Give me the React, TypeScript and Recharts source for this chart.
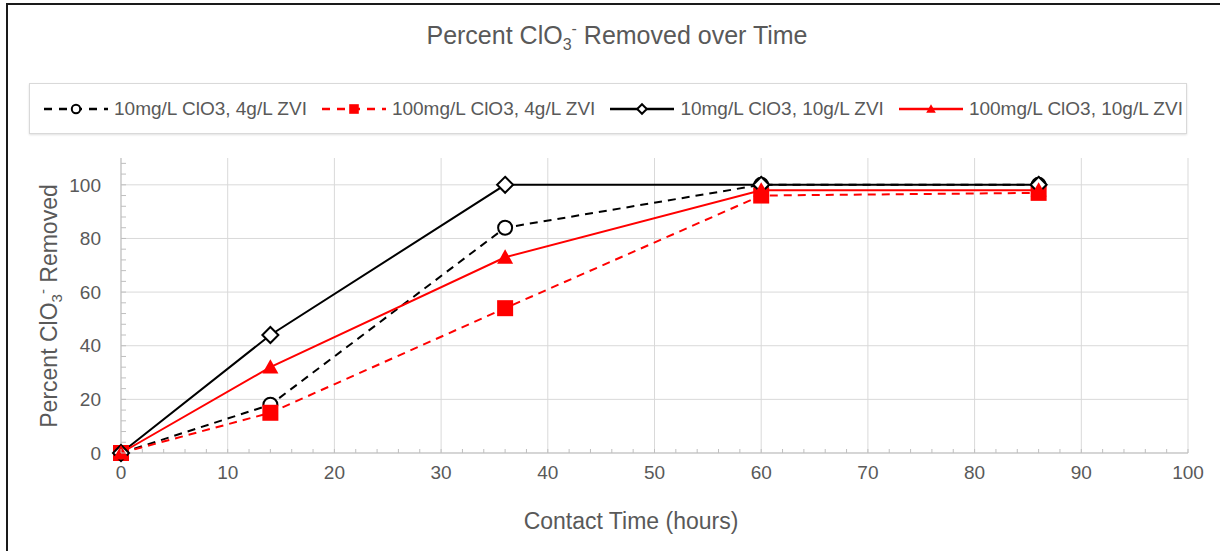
import React from "react";
import { CartesianGrid, Line, LineChart, XAxis, YAxis } from "recharts";

// contact time (hours) and percent ClO3- removed for each run
const hours = [0, 14, 36, 60, 86];
const clo3_10_zvi4 = [0, 18, 84, 100, 100];
const clo3_100_zvi4 = [0, 15, 54, 96, 97];
const clo3_10_zvi10 = [0, 44, 100, 100, 100];
const clo3_100_zvi10 = [0, 32, 73, 98, 98];

const seriesNames = [
  "10mg/L ClO3, 4g/L ZVI",
  "100mg/L ClO3, 4g/L ZVI",
  "10mg/L ClO3, 10g/L ZVI",
  "100mg/L ClO3, 10g/L ZVI",
];
const seriesValues = [clo3_10_zvi4, clo3_100_zvi4, clo3_10_zvi10, clo3_100_zvi10];

const xTicks = [0, 10, 20, 30, 40, 50, 60, 70, 80, 90, 100];
const xMinorTicks = Array.from({ length: 51 }, (_, i) => i * 2);
const yTicks = [0, 20, 40, 60, 80, 100];
const yMinorTicks = Array.from({ length: 28 }, (_, i) => i * 4);

const FONT = "'Liberation Sans', Arial, sans-serif";
const TEXT = "#595959";
const GRID = "#d9d9d9";
const AXIS = "#bfbfbf";
const RED = "#ff0000";

type Marker = "circle" | "square" | "diamond" | "triangle";
const seriesStyle: { color: string; dashed: boolean; marker: Marker }[] = [
  { color: "#000", dashed: true, marker: "circle" },
  { color: RED, dashed: true, marker: "square" },
  { color: "#000", dashed: false, marker: "diamond" },
  { color: RED, dashed: false, marker: "triangle" },
];

const rows = hours.map((h, i) => {
  const r: Record<string, number> = { hours: h };
  seriesValues.forEach((vals, s) => {
    r[`s${s}`] = vals[i];
  });
  return r;
});

function markerShape(m: Marker, cx: number, cy: number, k: number, key?: string) {
  const r = 8 * k;
  if (m === "circle")
    return <circle key={key} cx={cx} cy={cy} r={7 * k} fill="#fff" stroke="#000" strokeWidth={2} />;
  if (m === "square")
    return <rect key={key} x={cx - r} y={cy - r} width={2 * r} height={2 * r} fill={RED} />;
  if (m === "diamond")
    return (
      <path
        key={key}
        d={`M${cx},${cy - r}L${cx + r},${cy}L${cx},${cy + r}L${cx - r},${cy}Z`}
        fill="#fff"
        stroke="#000"
        strokeWidth={2}
      />
    );
  return (
    <path
      key={key}
      d={`M${cx},${cy - r}L${cx + r},${cy + 0.8 * r}L${cx - r},${cy + 0.8 * r}Z`}
      fill={RED}
    />
  );
}

const X_MARGIN = 13;
const Y_MARGIN = 20;

// minor tick every 2 h pointing into the plot, label every 10 h
function XTick(p: any) {
  const v = p.payload.value;
  const axisY = p.y - X_MARGIN;
  return (
    <g>
      <line x1={p.x} x2={p.x} y1={axisY} y2={axisY - 4} stroke={AXIS} />
      {xTicks.includes(v) && (
        <text x={p.x} y={p.y} dy="0.71em" textAnchor="middle" fill={TEXT} fontSize={19} fontFamily={FONT}>
          {v}
        </text>
      )}
    </g>
  );
}

function YTick(p: any) {
  const v = p.payload.value;
  const axisX = p.x + Y_MARGIN;
  return (
    <g>
      <line x1={axisX} x2={axisX + 5} y1={p.y} y2={p.y} stroke={AXIS} />
      {yTicks.includes(v) && (
        <text x={p.x} y={p.y} dy="0.355em" textAnchor="end" fill={TEXT} fontSize={19} fontFamily={FONT}>
          {v}
        </text>
      )}
    </g>
  );
}

function LegendSample({ idx }: { idx: number }) {
  const st = seriesStyle[idx];
  return (
    <svg width={66} height={20} style={{ display: "block" }}>
      <line
        x1={1}
        y1={10}
        x2={65}
        y2={10}
        stroke={st.color}
        strokeWidth={2.5}
        strokeDasharray={st.dashed ? "8 7" : undefined}
      />
      {markerShape(st.marker, 33, 10, 0.6)}
    </svg>
  );
}

export default function App() {
  return (
    <div
      style={{
        position: "absolute",
        left: 0,
        top: 0,
        width: 1220,
        height: 551,
        background: "#fff",
        fontFamily: FONT,
        color: TEXT,
        overflow: "hidden",
      }}
    >
      <div
        style={{
          position: "absolute",
          left: 6,
          top: 3,
          width: 1214,
          height: 548,
          borderLeft: "2px solid #1a1a1a",
          borderTop: "2px solid #1a1a1a",
        }}
      />
      <div
        style={{
          position: "absolute",
          left: 0,
          width: 1234,
          top: 20,
          textAlign: "center",
          fontSize: 25,
          whiteSpace: "nowrap",
        }}
      >
        Percent ClO
        <span style={{ fontSize: 16, verticalAlign: -6 }}>3</span>
        <span style={{ fontSize: 16, verticalAlign: 10 }}>-</span> Removed over Time
      </div>

      <div
        style={{
          position: "absolute",
          left: 29,
          top: 83,
          width: 1158,
          height: 51,
          border: "1px solid " + GRID,
          boxShadow: "0 1px 2px rgba(0,0,0,0.12)",
          display: "flex",
          alignItems: "center",
          paddingLeft: 13,
          boxSizing: "border-box",
        }}
      >
        {seriesNames.map((name, i) => (
          <div key={name} style={{ display: "flex", alignItems: "center", marginRight: 14 }}>
            <LegendSample idx={i} />
            <span style={{ fontSize: 19, marginLeft: 5, whiteSpace: "nowrap" }}>{name}</span>
          </div>
        ))}
      </div>

      <div
        style={{
          position: "absolute",
          left: 49,
          top: 306,
          transform: "translate(-50%, -50%) rotate(-90deg)",
          fontSize: 23,
          whiteSpace: "nowrap",
        }}
      >
        Percent ClO
        <span style={{ fontSize: 15, verticalAlign: -5 }}>3</span>
        <span style={{ fontSize: 15, verticalAlign: 9 }}>-</span> Removed
      </div>
      <div
        style={{
          position: "absolute",
          left: 631,
          top: 508,
          transform: "translateX(-50%)",
          fontSize: 23,
          whiteSpace: "nowrap",
        }}
      >
        Contact Time (hours)
      </div>

      <div style={{ position: "absolute", left: 0, top: 0 }}>
        <LineChart
          width={1220}
          height={551}
          data={rows}
          margin={{ top: 158, right: 32, bottom: 58, left: 51 }}
        >
          <CartesianGrid stroke={GRID} strokeWidth={1} horizontalValues={yTicks} verticalValues={xTicks} />
          <XAxis
            dataKey="hours"
            type="number"
            domain={[0, 100]}
            ticks={xMinorTicks}
            interval={0}
            height={40}
            axisLine={{ stroke: AXIS }}
            tickLine={false}
            tickSize={0}
            tickMargin={X_MARGIN}
            tick={XTick}
          />
          <YAxis
            type="number"
            domain={[0, 110]}
            ticks={yMinorTicks}
            interval={0}
            width={70}
            axisLine={{ stroke: AXIS }}
            tickLine={false}
            tickSize={0}
            tickMargin={Y_MARGIN}
            tick={YTick}
          />
          {seriesNames.map((name, i) => {
            const st = seriesStyle[i];
            return (
              <Line
                key={name}
                name={name}
                dataKey={`s${i}`}
                type="linear"
                stroke={st.color}
                strokeWidth={2}
                strokeDasharray={st.dashed ? "8 6" : undefined}
                isAnimationActive={false}
                dot={(p: any) => markerShape(st.marker, p.cx, p.cy, 1, `d${i}-${p.index}`)}
                activeDot={false}
              />
            );
          })}
        </LineChart>
      </div>
    </div>
  );
}
